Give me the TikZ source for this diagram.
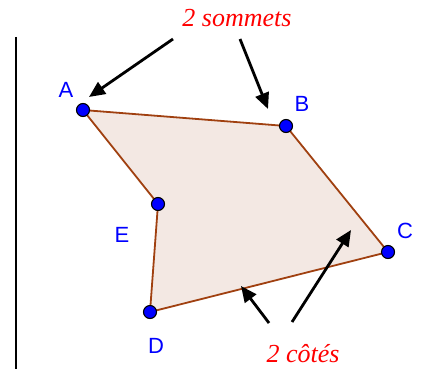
\documentclass[tikz,border=0pt]{standalone}
\usepackage{fontspec}
\setmainfont{Liberation Serif}
\setsansfont{Liberation Sans}
\usepackage{tikz}
\usetikzlibrary{arrows.meta,positioning,calc}
\definecolor{polyfill}{RGB}{243,232,227}
\definecolor{polyedge}{RGB}{160,64,16}
\definecolor{ptblue}{RGB}{0,0,255}
\definecolor{txtred}{RGB}{255,0,0}
\tikzset{
  pt/.style={circle,draw=black,fill=ptblue,line width=1.1pt,inner sep=0pt,
             minimum size=13pt},
  plbl/.style={text=ptblue,font=\sffamily\fontsize{22}{22}\selectfont},
  note/.style={text=txtred,font=\itshape\fontsize{26}{26}\selectfont},
  fl/.style={-{Triangle[length=16pt,width=14pt]},line width=2.8pt},
}

\begin{document}
\begin{tikzpicture}[x=1pt, y=-1pt]
  \useasboundingbox (0,0) rectangle (422,369);
  \coordinate (a) at (83,110);
  \coordinate (b) at (286,126);
  \coordinate (c) at (388,252);
  \coordinate (d) at (150,312);
  \coordinate (e) at (158,204);
  \coordinate (top) at (16,37);
  \coordinate (bot) at (16,369);
  \draw[line width=1.6pt] (top) -- (bot);
  \filldraw[fill=polyfill,draw=polyedge,line width=1.8pt,line join=round]
       (a) -- (b) -- (c) -- (d) -- (e) -- cycle;
  \foreach \p in {a,b,c,d,e}
    \node[pt] (p\p) at (\p) {};
  \node[plbl] (la) at (66,90) {A};
  \node[plbl] (lb) at (302,104) {B};
  \node[plbl] (lc) at (405,231) {C};
  \node[plbl] (ld) at (156,346) {D};
  \node[plbl] (le) at (122,235) {E};
  \node[note] (ns) at (237,18) {2 sommets};
  \node[note] (nc) at (303,354) {2 côtés};
  % arrow ends
  \coordinate (sa) at (173,39);
  \coordinate (sb) at (240,39);
  \coordinate (sdc) at (269,323);
  \coordinate (sbc) at (292,322);
  \coordinate (ha) at (89,97);
  \coordinate (hb) at (268,109);
  \coordinate (hdc) at (241,286);
  \coordinate (hbc) at (351,230);
  \draw[fl] (sa) -- (ha);
  \draw[fl] (sb) -- (hb);
  \draw[fl] (sdc) -- (hdc);
  \draw[fl] (sbc) -- (hbc);
\end{tikzpicture}
\end{document}
